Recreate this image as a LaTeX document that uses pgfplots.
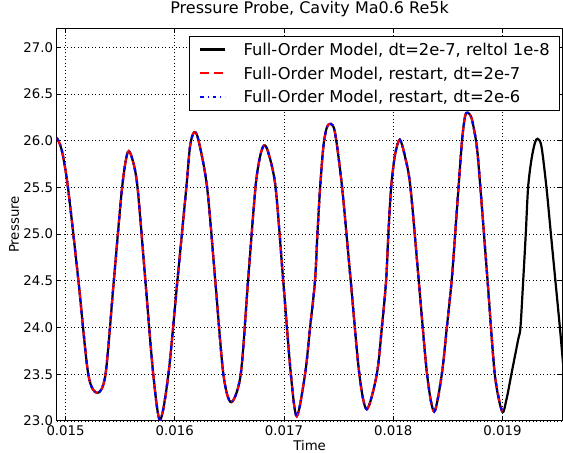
\documentclass[border=0pt]{standalone}
\usepackage{fontspec}
\setmainfont{DejaVu Sans}
\usepackage{pgfplots}
\usepackage{pgfplotstable}
\pgfplotsset{compat=1.18}

\pgfplotstableread{
t p
0.014919 26.03
0.014965 25.90
0.015022 25.50
0.015118 24.50
0.015208 23.50
0.015291 23.30
0.015366 23.50
0.015442 24.50
0.015518 25.50
0.015569 25.875
0.015612 25.80
0.015659 25.50
0.015731 24.50
0.015803 23.50
0.015865 23.01
0.015942 23.50
0.016024 24.50
0.016106 25.50
0.016140 25.94
0.016177 26.09
0.016216 26.01
0.016296 25.50
0.016371 24.50
0.016445 23.50
0.016516 23.20
0.016604 23.50
0.016671 24.50
0.016739 25.50
0.016781 25.83
0.016818 25.95
0.016857 25.87
0.016923 25.50
0.016993 24.50
0.017063 23.50
0.017117 23.05
0.017193 23.50
0.017239 24.00
0.017284 24.50
0.017306 25.00
0.017331 25.50
0.017361 25.94
0.017392 26.14
0.017429 26.18
0.017468 26.08
0.017532 25.50
0.017611 24.50
0.017690 23.50
0.017758 23.125
0.017850 23.50
0.017896 24.00
0.017935 24.50
0.017956 25.01
0.017981 25.50
0.018017 25.85
0.018060 26.01
0.018108 25.83
0.018158 25.50
0.018234 24.50
0.018310 23.50
0.018375 23.10
0.018445 23.50
0.018491 24.00
0.018535 24.50
0.018567 25.00
0.018598 25.50
0.018630 26.00
0.018658 26.26
0.018683 26.30
0.018720 26.23
0.018765 25.94
0.018798 25.50
0.018864 24.50
0.018930 23.50
0.018997 23.10
0.019037 23.23
0.019082 23.50
0.019144 23.87
0.019165 24.00
0.019190 24.50
0.019214 25.01
0.019235 25.50
0.019266 25.80
0.019297 25.975
0.019321 26.02
0.019357 25.94
0.019403 25.50
0.019443 25.01
0.019485 24.50
0.019526 24.00
0.019556 23.60
}\probe

\begin{document}
\begin{tikzpicture}
\begin{axis}[
  scale only axis,
  width=505.8pt, height=392.6pt,
  xmin=0.014919, xmax=0.01955,
  ymin=23.0, ymax=27.203,
  xtick={0.015,0.016,0.017,0.018,0.019},
  xticklabels={0.015,0.016,0.017,0.018,0.019},
  ytick={23,23.5,24,24.5,25,25.5,26,26.5,27},
  yticklabels={23.0,23.5,24.0,24.5,25.0,25.5,26.0,26.5,27.0},
  scaled x ticks=false,
  tick align=inside,
  major tick length=4.4pt,
  tick style={black, line width=0.8pt},
  axis line style={black, line width=1pt},
  grid=major,
  major grid style={black, line width=0.6pt, dash pattern=on 1pt off 2.5pt},
  ticklabel style={font=\fontsize{13.3}{16}\selectfont},
  xticklabel style={anchor=base, inner sep=0pt, yshift=-14.8pt},
  yticklabel style={anchor=east, inner sep=0pt, xshift=-3.4pt},
  xlabel={Time},
  ylabel={Pressure},
  label style={font=\fontsize{13.3}{16}\selectfont},
  xlabel style={at={(axis description cs:0.5,0)}, anchor=base, inner sep=0pt, yshift=-29.6pt},
  ylabel style={at={(axis description cs:0,0.5)}, anchor=base, inner sep=0pt, yshift=37.7pt},
  title={Pressure Probe, Cavity Ma0.6 Re5k},
  title style={at={(axis description cs:0.5,1)}, anchor=base, inner sep=0pt, yshift=8.3pt, font=\fontsize{16}{19}\selectfont},
  legend style={at={(axis description cs:0.9951,0.9804)}, anchor=north east,
    draw=black, line width=0.8pt, fill=white,
    font=\fontsize{16.3}{19}\selectfont,
    inner xsep=10pt, inner ysep=5pt, row sep=7.4pt, column sep=17.3pt,
    nodes={inner sep=0pt, text height=14pt, text depth=2.4pt}},
  legend cell align=left,
  legend image code/.code={\draw[#1] (0pt,0pt) -- (25pt,0pt);},
]
\addplot[black, line width=2.2pt, smooth] table[x=t, y=p] {\probe};
\addlegendentry{Full-Order Model, dt=2e-7, reltol 1e-8}
\addplot[red, line width=2.2pt, dash pattern=on 9pt off 5pt, smooth,
  restrict x to domain=0.0149:0.018998] table[x=t, y=p] {\probe};
\addlegendentry{Full-Order Model, restart, dt=2e-7}
\addplot[blue, line width=2.2pt, dash pattern=on 3.5pt off 4pt on 1pt off 4pt, smooth,
  restrict x to domain=0.0149:0.018998] table[x=t, y=p] {\probe};
\addlegendentry{Full-Order Model, restart, dt=2e-6}
\coordinate (sw) at (rel axis cs:0,0);
\coordinate (ne) at (rel axis cs:1,1);
\end{axis}
\pgfresetboundingbox
\path ([shift={(-56.7pt,-32.1pt)}]sw) rectangle ([shift={(0.5pt,28.3pt)}]ne);
\end{tikzpicture}
\end{document}
